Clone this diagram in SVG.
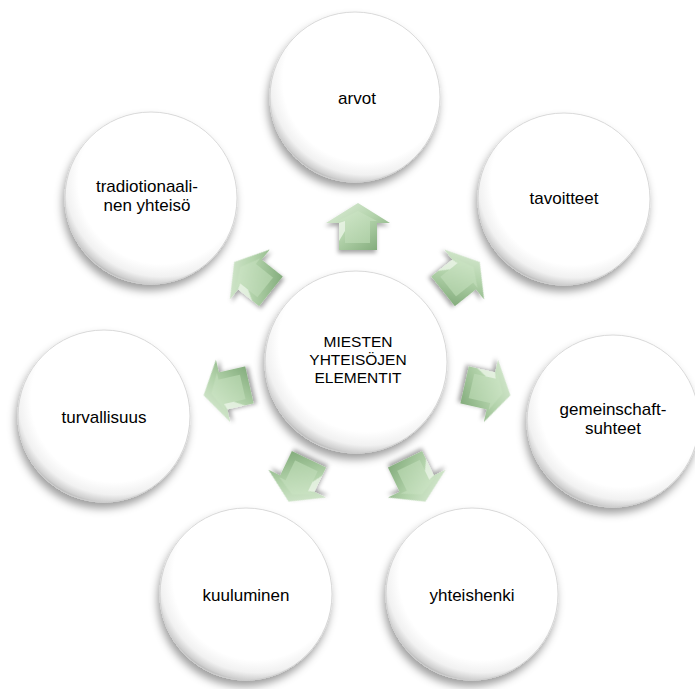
<svg xmlns="http://www.w3.org/2000/svg" xmlns:xlink="http://www.w3.org/1999/xlink" width="695" height="689" viewBox="0 0 695 689">
<defs>
<radialGradient id="ballFill" cx="0.56" cy="0.40" r="0.62">
<stop offset="0" stop-color="#ffffff"/>
<stop offset="0.78" stop-color="#ffffff"/>
<stop offset="0.9" stop-color="#f1f1f1"/>
<stop offset="0.97" stop-color="#cfcfcf"/>
<stop offset="1" stop-color="#b0b0b0"/>
</radialGradient>
<filter id="ballShadow" x="-20%" y="-20%" width="140%" height="150%">
<feDropShadow dx="-2" dy="6" stdDeviation="4" flood-color="#000" flood-opacity="0.38"/>
</filter>
<filter id="arrowShadow" x="-30%" y="-30%" width="160%" height="170%">
<feDropShadow dx="-1" dy="3" stdDeviation="2" flood-color="#000" flood-opacity="0.35"/>
</filter>
<linearGradient id="arrowOuter" x1="0" y1="0" x2="1" y2="1">
<stop offset="0" stop-color="#e2f0dd"/>
<stop offset="0.5" stop-color="#b3d3ab"/>
<stop offset="1" stop-color="#78a371"/>
</linearGradient>
<linearGradient id="arrowInner" x1="0" y1="0" x2="0.8" y2="1">
<stop offset="0" stop-color="#d0e7c9"/>
<stop offset="1" stop-color="#aecfa6"/>
</linearGradient>
<g id="arrow">
<polygon points="0,-24 32,-4 19,-4 19,23 -19,23 -19,-4 -32,-4" fill="url(#arrowOuter)"/>
<polygon points="0,-16 19,-6 12,-6 12,16 -13,16 -13,-6 -20,-6" fill="url(#arrowInner)"/>
<polygon points="-19,-4 -13,-6 -13,4 -19,14" fill="#f2f9ef" opacity="0.7"/>
</g>
<style>
.ball { fill: url(#ballFill); stroke: #cfcfcf; stroke-width: 0.8; filter: url(#ballShadow); }
.lbl { font-family: "Liberation Sans", Arial, sans-serif; font-size: 17px; fill: #000; text-anchor: middle; }
.clbl { font-family: "Liberation Sans", Arial, sans-serif; font-size: 15.5px; fill: #000; text-anchor: middle; }
.arr { filter: url(#arrowShadow); }
</style>
</defs>
<rect width="695" height="689" fill="#ffffff"/>

<g id="connectors">
<use href="#arrow" class="arr" transform="translate(358,227) rotate(0)"/>
<use href="#arrow" class="arr" transform="translate(461,277) rotate(51.43)"/>
<use href="#arrow" class="arr" transform="translate(487,390) rotate(102.86)"/>
<use href="#arrow" class="arr" transform="translate(415,480) rotate(154.29)"/>
<use href="#arrow" class="arr" transform="translate(299,480) rotate(205.71)"/>
<use href="#arrow" class="arr" transform="translate(227,390) rotate(257.14)"/>
<use href="#arrow" class="arr" transform="translate(253,277) rotate(308.57)"/>
</g>

<g id="center">
<circle class="ball" cx="356" cy="362" r="91"/>
<text class="clbl" x="358" y="347">MIESTEN</text>
<text class="clbl" x="358" y="365">YHTEISÖJEN</text>
<text class="clbl" x="358" y="383">ELEMENTIT</text>
</g>

<g id="arvot">
<circle class="ball" cx="355" cy="97" r="85"/>
<text class="lbl" x="357" y="104">arvot</text>
</g>

<g id="tavoitteet">
<circle class="ball" cx="564" cy="199" r="86"/>
<text class="lbl" x="564" y="204">tavoitteet</text>
</g>

<g id="gemeinschaftsuhteet">
<circle class="ball" cx="613" cy="421" r="86"/>
<text class="lbl" x="613" y="415">gemeinschaft-</text>
<text class="lbl" x="613" y="434">suhteet</text>
</g>

<g id="yhteishenki">
<circle class="ball" cx="472" cy="594" r="86"/>
<text class="lbl" x="472" y="601">yhteishenki</text>
</g>

<g id="kuuluminen">
<circle class="ball" cx="246" cy="594" r="86"/>
<text class="lbl" x="246" y="601">kuuluminen</text>
</g>

<g id="turvallisuus">
<circle class="ball" cx="104" cy="416" r="86"/>
<text class="lbl" x="104" y="423">turvallisuus</text>
</g>

<g id="tradiotionaalinen">
<circle class="ball" cx="151" cy="198" r="86"/>
<text class="lbl" x="147" y="192">tradiotionaali-</text>
<text class="lbl" x="147" y="211">nen yhteisö</text>
</g>
</svg>
